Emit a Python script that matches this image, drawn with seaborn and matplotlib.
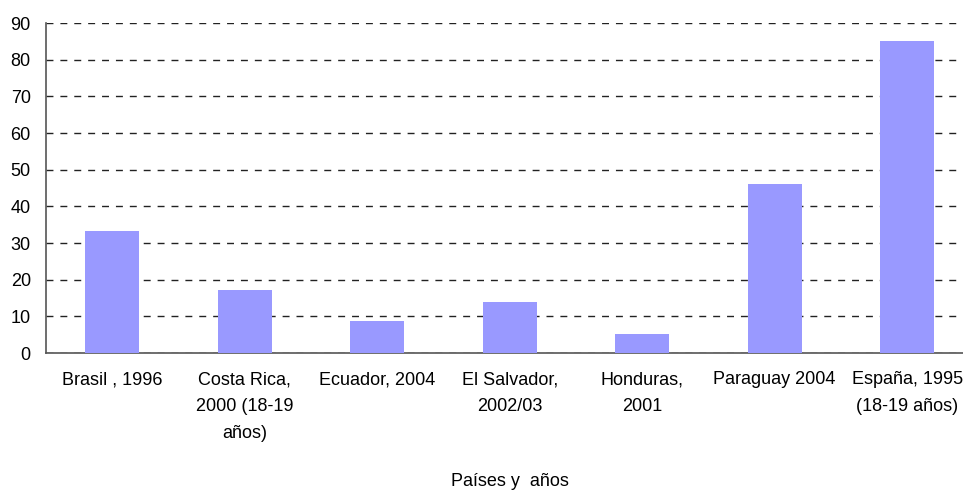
import pandas as pd
import matplotlib
matplotlib.use("Agg")
import matplotlib.pyplot as plt
import seaborn as sns

# --- data ---
paises = [
    "Brasil , 1996",
    "Costa Rica,\n2000 (18-19\naños)",
    "Ecuador, 2004",
    "El Salvador,\n2002/03",
    "Honduras,\n2001",
    "Paraguay 2004",
    "España, 1995\n(18-19 años)",
]
valores = [33.3, 17.2, 8.7, 13.9, 5.2, 46.1, 85.1]

df = pd.DataFrame({"pais": paises, "valor": valores})

sns.set_style("white")
plt.rcParams["font.family"] = ["Liberation Sans", "DejaVu Sans"]
plt.rcParams["text.color"] = "black"
plt.rcParams["xtick.color"] = "black"
plt.rcParams["ytick.color"] = "black"

fig = plt.figure(figsize=(9.63, 4.91), dpi=100)
ax = fig.add_axes([0.0478, 0.281, 0.963, 0.672])

sns.barplot(data=df, x="pais", y="valor", color="#9999FF", width=0.41,
            saturation=1, linewidth=0, ax=ax, zorder=3)

ax.set_ylim(0, 90)
ax.set_yticks(range(0, 91, 10))
ax.set_xlim(-0.5, len(paises) - 0.5)
ax.yaxis.grid(True, linestyle=(0, (5, 5)), color="#222222", linewidth=1, zorder=0)
ax.xaxis.grid(False)

for side in ["top", "right"]:
    ax.spines[side].set_visible(False)
for side in ["left", "bottom"]:
    ax.spines[side].set_color("#555555")
    ax.spines[side].set_linewidth(1.2)

ax.tick_params(axis="y", labelsize=13, length=0, pad=11, labelcolor="black")
ax.tick_params(axis="x", labelsize=13, length=0, pad=13, labelcolor="black")
for lbl in ax.get_xticklabels():
    lbl.set_linespacing(1.78)
    lbl.set_ha("center")

ax.set_ylabel("")
ax.set_xlabel("Países y  años", fontsize=13, va="center", color="black")
ax.xaxis.set_label_coords(0.5, -0.39)

fig.savefig("out.png", dpi=100)
